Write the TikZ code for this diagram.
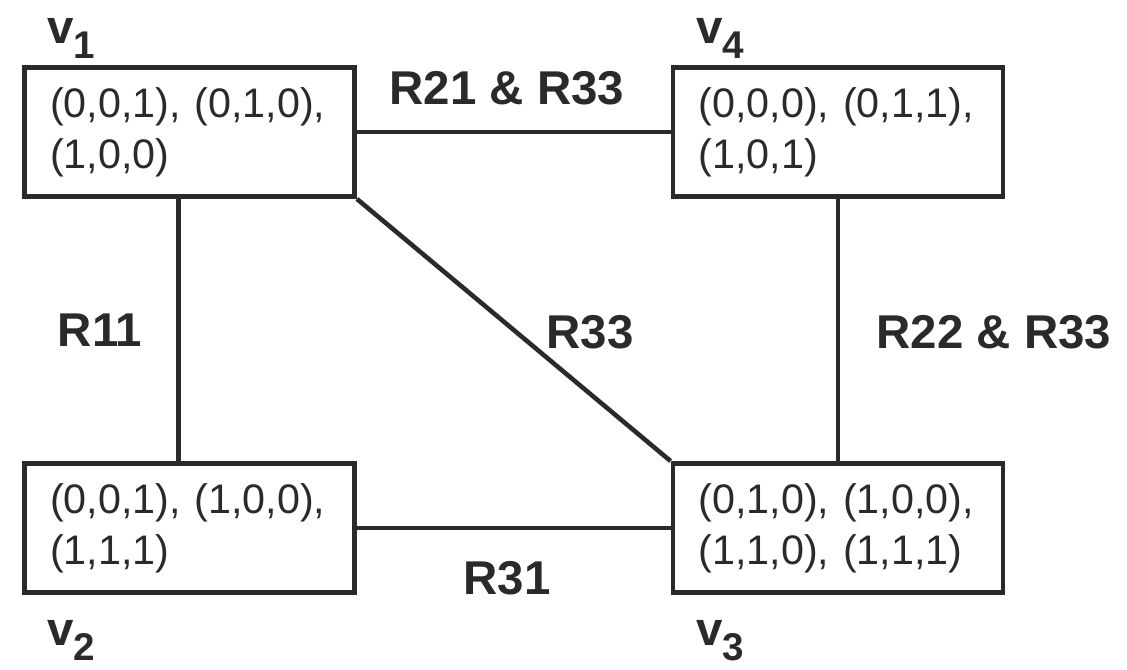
\documentclass[tikz,border=0pt]{standalone}
\usepackage{fontspec}
\setmainfont{Liberation Sans}
\usepackage{tikz}
\usetikzlibrary{arrows.meta, calc, positioning}
\definecolor{ink}{RGB}{42,42,42}

\begin{document}
\begin{tikzpicture}[x=0.02cm, y=-0.02cm,
    cellbox/.style={draw=ink, line width=2.8pt, minimum width=6.6cm, minimum height=2.58cm,
        text width=5.58cm, align=left, inner sep=0pt, text=ink,
        font=\fontsize{23.5}{29}\selectfont},
    vlabel/.style={anchor=base west, inner sep=0pt, text=ink, font=\fontsize{27}{28}\selectfont\bfseries},
    elabel/.style={inner sep=0pt, text=ink, font=\fontsize{27}{28}\selectfont\bfseries}]
            \useasboundingbox (0,0) rectangle (1127,670);
            \node[cellbox] (v1) at (189.5,132) {(0,0,1), (0,1,0),\\(1,0,0)};
            \node[cellbox] (v4) at (838,132) {(0,0,0), (0,1,1),\\(1,0,1)};
            \node[cellbox] (v2) at (189.5,528) {(0,0,1), (1,0,0),\\(1,1,1)};
            \node[cellbox] (v3) at (838,528) {(0,1,0), (1,0,0),\\(1,1,0), (1,1,1)};

            \node[vlabel] (n1) at (47,43) {v\raisebox{-0.62ex}{\fontsize{22}{22}\selectfont 1}};
            \node[vlabel] (n4) at (696,43) {v\raisebox{-0.62ex}{\fontsize{22}{22}\selectfont 4}};
            \node[vlabel] (n2) at (47,645) {v\raisebox{-0.62ex}{\fontsize{22}{22}\selectfont 2}};
            \node[vlabel] (n3) at (696,645) {v\raisebox{-0.62ex}{\fontsize{22}{22}\selectfont 3}};

            \draw[line width=2.6pt, draw=ink] (v1) -- (v4);
            \draw[line width=2.6pt, draw=ink] ([xshift=-0.22cm]v1.south) -- ([xshift=-0.22cm]v2.north);
            \draw[line width=2.6pt, draw=ink] (v1.south east) -- (v3.north west);
            \draw[line width=2.6pt, draw=ink] (v4) -- (v3);
            \draw[line width=2.6pt, draw=ink] (v2) -- (v3);

            \node[elabel] (r2133) at (507,88) {R21 \& R33};
            \node[elabel] (r11) at (100,330) {R11};
            \node[elabel] (r33) at (590,332) {R33};
            \node[elabel] (r2233) at (994,332) {R22 \& R33};
            \node[elabel] (r31) at (507,578) {R31};
        \end{tikzpicture}
\end{document}
